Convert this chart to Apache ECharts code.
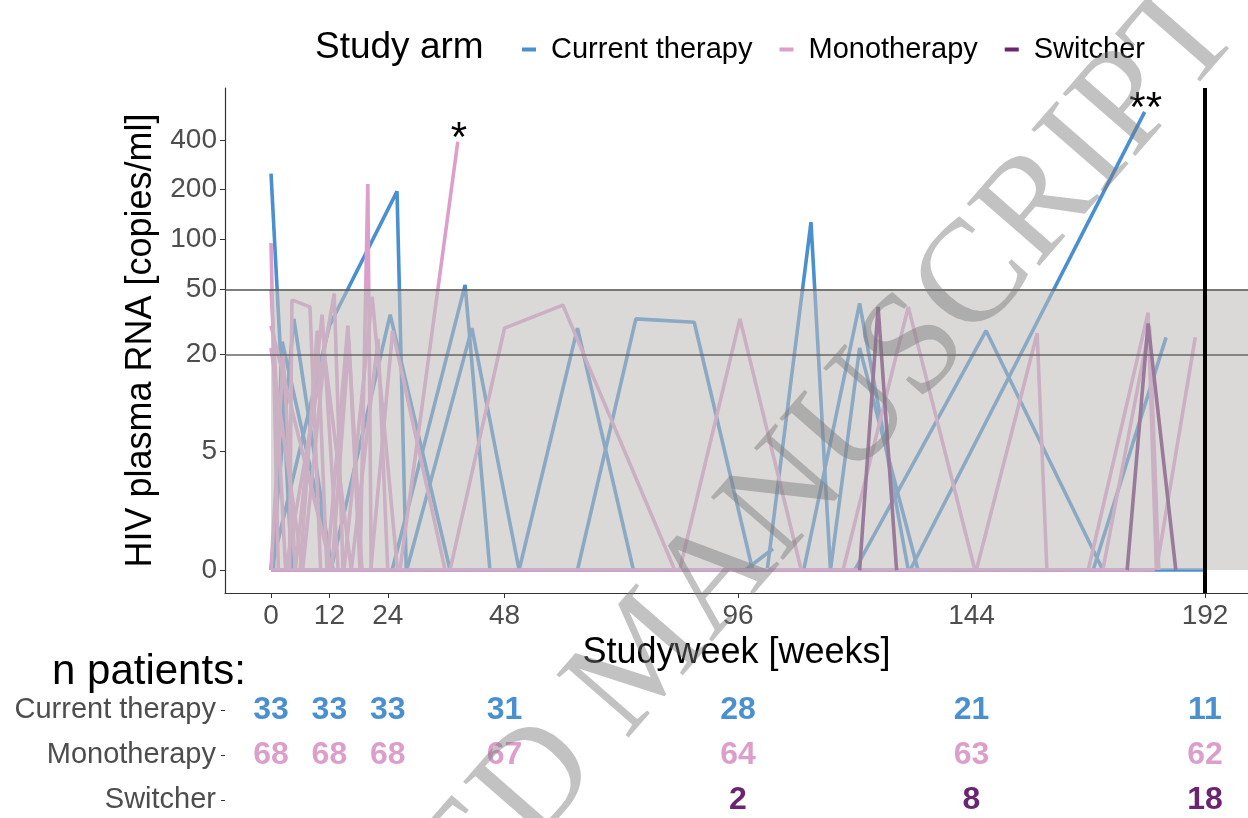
<!DOCTYPE html>
<html><head><meta charset="utf-8">
<script src="https://cdn.jsdelivr.net/npm/echarts@6/dist/echarts.min.js"></script>
<style>html,body{margin:0;padding:0;background:#fff}#c{width:1248px;height:818px}</style>
</head><body><div id="c"></div>
<script>
// ---------- data ----------
const weekTicks = [0, 12, 24, 48, 96, 144, 192];
const rnaTicks = [0, 5, 20, 50, 100, 200, 400];
const arms = ['Current therapy', 'Monotherapy', 'Switcher'];

// patient trajectories: [week, copies/ml]
const currentTherapy = [
  [[0, 0], [191.6, 0]],
  [[0, 250], [4.3, 0]],
  [[0, 0], [12, 30], [25.9, 195], [27.8, 0]],
  [[0, 0], [4.7, 33], [12.5, 0]],
  [[0.5, 0], [2.3, 24], [12.8, 0]],
  [[12.3, 0], [24.5, 35], [36.8, 0]],
  [[24.9, 0], [39.9, 53], [45, 0]],
  [[27.9, 0], [41.3, 29], [51, 0], [63, 29], [74.5, 0]],
  [[63, 0], [75, 33], [87, 31.5], [99, 0]],
  [[97.5, 0], [103.2, 0.6]],
  [[102, 0], [111, 127], [115, 0]],
  [[109.5, 0], [121, 41], [131, 0]],
  [[115, 0], [121, 22], [133, 0]],
  [[120, 0], [147, 28], [171, 0]],
  [[131.4, 0], [179.6, 590]],
  [[169, 0], [184, 25.5]]
];
const monotherapy = [
  [[0, 0], [181.7, 0]],
  [[0, 95], [1.5, 0]],
  [[0, 50], [3, 0], [13, 47], [14.8, 0]],
  [[3.8, 0], [4.3, 43], [8, 39], [10.2, 0]],
  [[0, 30], [12.5, 0], [16, 24], [18.3, 0]],
  [[18.3, 0], [19.9, 216], [20.6, 0]],
  [[15, 0], [20.8, 45], [26, 0]],
  [[20.5, 0], [25, 28], [35.8, 0]],
  [[0, 0], [2.5, 20], [5, 0], [10.5, 35], [13.8, 0]],
  [[6, 0], [9.5, 28], [11.5, 0], [15.8, 30], [18.7, 0]],
  [[0, 22], [6.5, 0], [11, 20], [16.5, 0], [22, 25], [24, 0]],
  [[26.5, 0], [38.4, 390]],
  [[36.8, 0], [48, 29], [60, 40], [83, 0]],
  [[84, 0], [96.4, 33], [109, 0]],
  [[117.6, 0], [131, 39], [144.7, 0]],
  [[145, 0], [157.5, 27], [159.5, 0]],
  [[168, 0], [180.3, 36], [182, 0], [190, 25.5]],
  [[171, 0], [180.6, 30], [182.5, 0]]
];
const switcher = [
  [[121, 0], [124.8, 39], [128.6, 0]],
  [[176, 0], [180.3, 31], [186, 0]]
];
const flagged = [[38.4, 390, '*'], [179.6, 590, '**']];

// patients per arm at study weeks
const nWeeks = [0, 12, 24, 48, 96, 144, 192];
const nCurrent = [33, 33, 33, 31, 28, 21, 11];
const nMono = [68, 68, 68, 67, 64, 63, 62];
const nSwitch = [null, null, null, null, 2, 8, 18];

// ---------- styling / scales ----------
const colors = ['#4a90d0', '#dc9fcc', '#6a2470'];
const tf = v => Math.asinh(v / 2);          // pseudo-log scale
const xMin = -9.46, xMax = 200.84, yMin = -0.32, yMax = 6.713;
const FONT = "'Liberation Sans', Arial, sans-serif";
const CLEAR = 'rgba(0,0,0,0)';
const rowOf = arm => arms.length - 1 - arms.indexOf(arm);   // table row (top = first arm)

function patientSeries(list, name, color, z) {
  return list.map(pts => ({
    type: 'line', name, z, silent: true, animation: false,
    xAxisIndex: 0, yAxisIndex: 0,
    data: pts.map(p => [p[0], tf(p[1])]),
    showSymbol: false, symbol: 'none',
    lineStyle: { width: 3.6, color }, itemStyle: { color }
  }));
}
function countSeries(counts, arm, color) {
  return {
    type: 'scatter', name: 'n ' + arm, xAxisIndex: 1, yAxisIndex: 1, silent: true, animation: false,
    data: nWeeks.map((w, i) => [w, rowOf(arm), counts[i]]).filter(d => d[2] != null),
    symbolSize: 2, itemStyle: { color: CLEAR, opacity: 1 },
    label: { show: true, position: 'inside', formatter: p => p.value[2], fontSize: 32, fontWeight: 'bold', color, fontFamily: FONT }
  };
}

const series = [].concat(
  patientSeries(currentTherapy, arms[0], colors[0], 2),
  patientSeries(monotherapy, arms[1], colors[1], 2),
  patientSeries(switcher, arms[2], colors[2], 2),
  [{
    type: 'custom', z: 3, silent: true, animation: false, xAxisIndex: 0, yAxisIndex: 0,
    data: [[0, 0, 50]],
    renderItem: (params, api) => {
      const p0 = api.coord([api.value(0), tf(api.value(1))]);
      const p1 = api.coord([xMax, tf(api.value(2))]);
      return { type: 'rect', shape: { x: p0[0], y: p1[1], width: p1[0] - p0[0], height: p0[1] - p1[1] },
               style: { fill: 'rgba(190,188,186,0.57)' } };
    }
  },
  {
    type: 'line', z: 4, silent: true, animation: false, data: [], xAxisIndex: 0, yAxisIndex: 0,
    markLine: {
      symbol: 'none', silent: true, animation: false, label: { show: false },
      data: [
        { yAxis: tf(20), lineStyle: { color: '#666', width: 1.5, type: 'solid' } },
        { yAxis: tf(50), lineStyle: { color: '#555', width: 1.5, type: 'solid' } },
        { xAxis: 192, lineStyle: { color: '#000', width: 4, type: 'solid' } }
      ]
    }
  },
  {
    type: 'scatter', z: 5, silent: true, animation: false, xAxisIndex: 0, yAxisIndex: 0,
    data: flagged.map(f => [f[0], tf(f[1]), f[2]]),
    symbolSize: 2, itemStyle: { color: CLEAR, opacity: 1 },
    label: { show: true, position: 'top', distance: 0, offset: [1, 20], formatter: p => p.value[2], fontSize: 42, color: '#000', fontFamily: FONT }
  },
  countSeries(nCurrent, arms[0], colors[0]),
  countSeries(nMono, arms[1], colors[1]),
  countSeries(nSwitch, arms[2], colors[2])]
);

const rowTicks = arms.map((a, i) => i);
const chart = echarts.init(document.getElementById('c'), null, { renderer: 'canvas' });
chart.setOption({
  animation: false,
  textStyle: { fontFamily: FONT },
  grid: [
    { left: 225, right: 0, top: 88, bottom: 225 },
    { left: 225, right: 0, top: 688, bottom: 0 }
  ],
  xAxis: [
    {
      type: 'value', gridIndex: 0, min: xMin, max: xMax,
      name: 'Studyweek [weeks]', nameLocation: 'middle', nameGap: 36,
      nameTextStyle: { fontSize: 36, color: '#000', fontFamily: FONT },
      axisLine: { show: true, onZero: false, lineStyle: { color: '#333', width: 1.2 } },
      axisTick: { show: true, length: 5, customValues: weekTicks, lineStyle: { color: '#333' } },
      axisLabel: { customValues: weekTicks, fontSize: 28, color: '#4d4d4d', margin: 9, fontFamily: FONT },
      splitLine: { show: false }
    },
    { type: 'value', gridIndex: 1, min: xMin, max: xMax, show: false }
  ],
  yAxis: [
    {
      type: 'value', gridIndex: 0, min: yMin, max: yMax,
      name: 'HIV plasma RNA [copies/ml]', nameLocation: 'middle', nameGap: 58,
      nameTextStyle: { fontSize: 36, color: '#000', fontFamily: FONT },
      axisLine: { show: true, onZero: false, lineStyle: { color: '#333', width: 1.2 } },
      axisTick: { show: true, length: 5, customValues: rnaTicks.map(tf), lineStyle: { color: '#333' } },
      axisLabel: {
        customValues: rnaTicks.map(tf), fontSize: 28, color: '#4d4d4d', margin: 8, fontFamily: FONT,
        formatter: v => { const t = rnaTicks.find(r => Math.abs(tf(r) - v) < 1e-6); return t === undefined ? '' : String(t); }
      },
      splitLine: { show: false }
    },
    {
      type: 'value', gridIndex: 1, min: -0.4, max: 2.489,
      axisLine: { show: false, onZero: false },
      axisTick: { show: true, length: 4, customValues: rowTicks, lineStyle: { color: '#333' } },
      axisLabel: { customValues: rowTicks, fontSize: 29, color: '#4d4d4d', margin: 9, fontFamily: FONT,
                   formatter: v => arms[arms.length - 1 - Math.round(v)] },
      splitLine: { show: false }
    }
  ],
  legend: {
    data: arms.map(n => ({ name: n, icon: 'rect' })),
    left: 517, top: 30, itemWidth: 14, itemHeight: 4, itemGap: 27,
    textStyle: { fontSize: 29, color: '#000', padding: [0, 0, 0, 10], fontFamily: FONT },
    selectedMode: false
  },
  graphic: [
    { type: 'text', left: 315, top: 29, z: 10, style: { text: 'Study arm', fontSize: 37, fill: '#000', fontFamily: FONT } },
    { type: 'text', left: 52, top: 651, z: 10, style: { text: 'n patients:', fontSize: 42, fill: '#000', fontFamily: FONT } },
    { type: 'text', x: 1215, y: 6, rotation: 0.854, z: 100, silent: true,
      style: { text: 'ACCEPTED MANUSCRIPT', fontSize: 146, fill: 'rgba(120,120,120,0.45)',
               fontFamily: "'Liberation Serif', 'DejaVu Serif', serif", align: 'right', verticalAlign: 'middle' } }
  ],
  series
});
</script></body></html>
